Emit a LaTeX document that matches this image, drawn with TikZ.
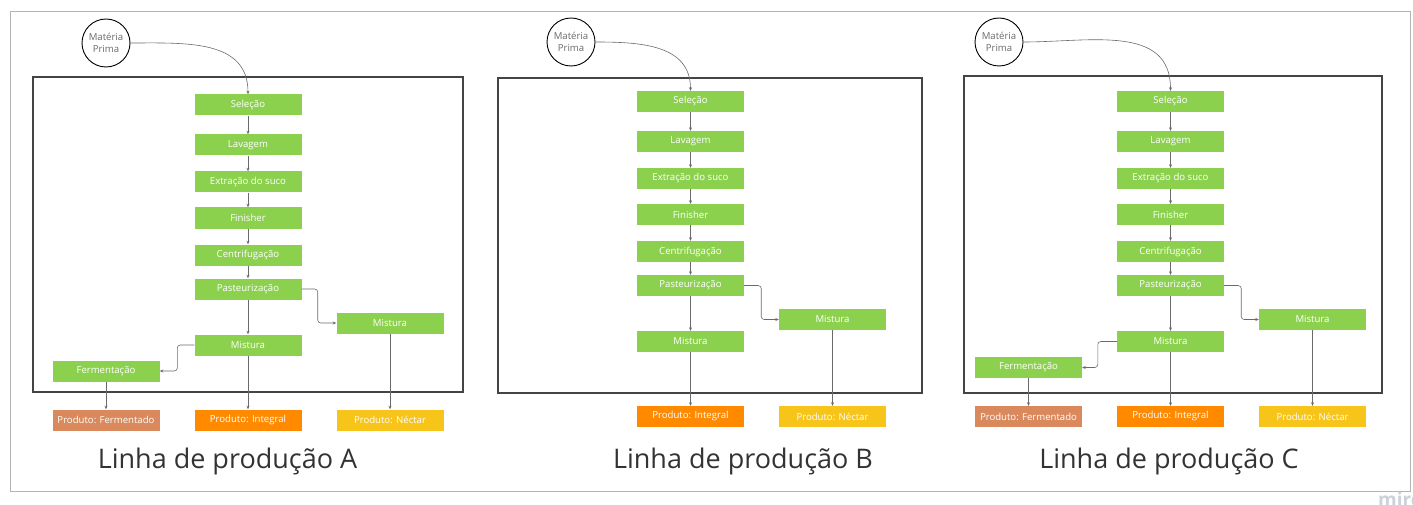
\documentclass[tikz,border=0pt]{standalone}
\usepackage{fontspec}
\setmainfont{Open Sans}
\usetikzlibrary{arrows.meta}
\definecolor{stepgreen}{HTML}{8CD14E}
\definecolor{fermcol}{HTML}{D9895B}
\definecolor{integcol}{HTML}{FF8A00}
\definecolor{nectcol}{HTML}{F7C51A}
\definecolor{framecol}{HTML}{444444}
\definecolor{outercol}{HTML}{B4B4B4}
\definecolor{linecol}{HTML}{6A6A6A}
\definecolor{titlecol}{HTML}{333333}
\definecolor{mirocol}{HTML}{CDD1DC}
\tikzset{
  stepbox/.style={fill=stepgreen, draw=none, minimum width=107pt, minimum height=21pt, inner sep=0pt,
    text=white, font=\fontsize{9.6}{11}\selectfont},
  prodbox/.style={stepbox},
  rawmat/.style={circle, draw=black, line width=0.9pt, minimum size=48pt, inner sep=0pt, align=center,
    text=linecol, font=\fontsize{9.6}{12}\selectfont},
  flow/.style={draw=linecol, line width=0.6pt, -{Stealth[length=3.5pt,width=3pt]}},
  panelframe/.style={draw=framecol, line width=1.3pt},
  paneltitle/.style={text=titlecol, font=\fontsize{27}{32}\selectfont, inner sep=0pt}
}
\begin{document}
\begin{tikzpicture}[x=1pt,y=-1pt]
\useasboundingbox (0,0) rectangle (1413,505);
\draw[outercol, line width=1pt] (10,12) rectangle (1410,491);
\node[anchor=west, text=mirocol, font=\fontsize{19}{20}\selectfont\bfseries, inner sep=0pt] (miro) at (1378,499) {miro};

% ---------- Panel A ----------
\draw[panelframe] (33,77) rectangle (463,392);
\begin{scope}[shift={(248,105)}, name prefix=A-]
  \node[rawmat] (mp) at (-142,-62) {Matéria\\Prima};
  \node[stepbox] (sel) at (0,0) {Seleção};
  \node[stepbox] (lav) at (0,40) {Lavagem};
  \node[stepbox] (ext) at (0,77) {Extração do suco};
  \node[stepbox] (fin) at (0,113) {Finisher};
  \node[stepbox] (cen) at (0,150) {Centrifugação};
  \node[stepbox] (pas) at (0,184) {Pasteurização};
  \node[stepbox] (mix) at (0,240) {Mistura};
  \node[stepbox] (mixr) at (142,218) {Mistura};
  \node[stepbox] (fer) at (-142,266) {Fermentação};
  \node[prodbox, fill=fermcol] (pf) at (-142,315) {Produto: Fermentado};
  \node[prodbox, fill=integcol] (pi) at (0,315) {Produto: Integral};
  \node[prodbox, fill=nectcol] (pn) at (142,315) {Produto: Néctar};
  \draw[flow] (mp.east) to[out=0,in=90,looseness=1.1] (sel.north);
  \draw[flow] (sel) -- (lav);
  \draw[flow] (lav) -- (ext);
  \draw[flow] (ext) -- (fin);
  \draw[flow] (fin) -- (cen);
  \draw[flow] (cen) -- (pas);
  \draw[flow] (pas) -- (mix);
  \draw[flow, rounded corners=3pt] (pas.east) -- ++(16,0) |- (mixr.west);
  \draw[flow, rounded corners=3pt] (mix.west) -- ++(-17,0) |- (fer.east);
  \draw[flow] (fer) -- (pf);
  \draw[flow] (mix) -- (pi);
  \draw[flow] (mixr) -- (pn);
\end{scope}
\node[paneltitle] (tA) at (227.5,461) {Linha de produção A};

% ---------- Panel B ----------
\draw[panelframe] (498,78) rectangle (922,393);
\begin{scope}[shift={(690.5,101.5)}, name prefix=B-]
  \node[rawmat] (mp) at (-119.5,-59.5) {Matéria\\Prima};
  \node[stepbox] (sel) at (0,0) {Seleção};
  \node[stepbox] (lav) at (0,40) {Lavagem};
  \node[stepbox] (ext) at (0,77) {Extração do suco};
  \node[stepbox] (fin) at (0,113) {Finisher};
  \node[stepbox] (cen) at (0,150) {Centrifugação};
  \node[stepbox] (pas) at (0,184) {Pasteurização};
  \node[stepbox] (mix) at (0,240) {Mistura};
  \node[stepbox] (mixr) at (142,218) {Mistura};
  \node[prodbox, fill=integcol] (pi) at (0,315) {Produto: Integral};
  \node[prodbox, fill=nectcol] (pn) at (142,315) {Produto: Néctar};
  \draw[flow] (mp.east) to[out=0,in=90,looseness=1.1] (sel.north);
  \draw[flow] (sel) -- (lav);
  \draw[flow] (lav) -- (ext);
  \draw[flow] (ext) -- (fin);
  \draw[flow] (fin) -- (cen);
  \draw[flow] (cen) -- (pas);
  \draw[flow] (pas) -- (mix);
  \draw[flow, rounded corners=3pt] (pas.east) -- ++(17,0) |- (mixr.west);
  \draw[flow] (mix) -- (pi);
  \draw[flow] (mixr) -- (pn);
\end{scope}
\node[paneltitle] (tB) at (743,461) {Linha de produção B};

% ---------- Panel C ----------
\draw[panelframe] (964,76) rectangle (1382,393);
\begin{scope}[shift={(1170.5,101.5)}, name prefix=C-]
  \node[rawmat] (mp) at (-171.5,-59.5) {Matéria\\Prima};
  \node[stepbox] (sel) at (0,0) {Seleção};
  \node[stepbox] (lav) at (0,40) {Lavagem};
  \node[stepbox] (ext) at (0,77) {Extração do suco};
  \node[stepbox] (fin) at (0,113) {Finisher};
  \node[stepbox] (cen) at (0,150) {Centrifugação};
  \node[stepbox] (pas) at (0,184) {Pasteurização};
  \node[stepbox] (mix) at (0,240) {Mistura};
  \node[stepbox] (mixr) at (142,218) {Mistura};
  \node[stepbox] (fer) at (-142,266) {Fermentação};
  \node[prodbox, fill=fermcol] (pf) at (-142,315) {Produto: Fermentado};
  \node[prodbox, fill=integcol] (pi) at (0,315) {Produto: Integral};
  \node[prodbox, fill=nectcol] (pn) at (142,315) {Produto: Néctar};
  \draw[flow] (mp.east) to[out=0,in=90,looseness=1.1] (sel.north);
  \draw[flow] (sel) -- (lav);
  \draw[flow] (lav) -- (ext);
  \draw[flow] (ext) -- (fin);
  \draw[flow] (fin) -- (cen);
  \draw[flow] (cen) -- (pas);
  \draw[flow] (pas) -- (mix);
  \draw[flow, rounded corners=3pt] (pas.east) -- ++(17,0) |- (mixr.west);
  \draw[flow, rounded corners=3pt] (mix.west) -- ++(-19,0) |- (fer.east);
  \draw[flow] (fer) -- (pf);
  \draw[flow] (mix) -- (pi);
  \draw[flow] (mixr) -- (pn);
\end{scope}
\node[paneltitle] (tC) at (1169,461) {Linha de produção C};
\end{tikzpicture}
\end{document}
